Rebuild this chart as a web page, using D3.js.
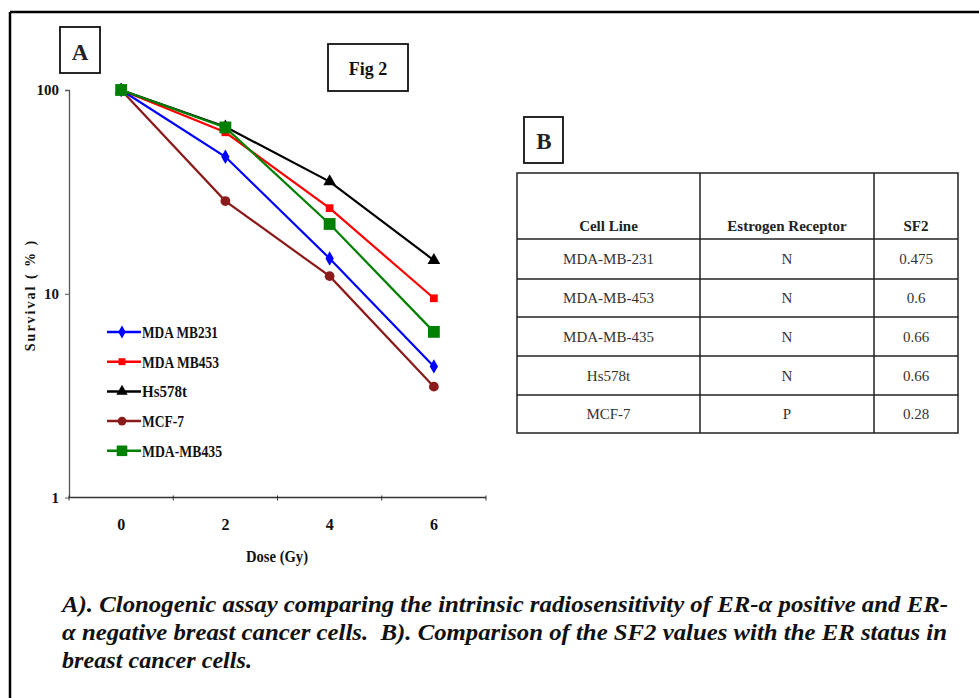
<!DOCTYPE html>
<html>
<head>
<meta charset="utf-8">
<script src="https://cdn.jsdelivr.net/npm/d3@7/dist/d3.min.js"></script>
<style>
  html, body { margin: 0; padding: 0; background: #fff; }
  svg { display: block; }
</style>
</head>
<body>
<svg id="chart" width="979" height="698"></svg>
<script>
// ---------- DATA ----------
const doses = ["0", "2", "4", "6"];
const seriesNames = ["MDA MB231", "MDA MB453", "Hs578t", "MCF-7", "MDA-MB435"];
const mdaMB231 = [100, 47, 14.9, 4.4];
const mdaMB453 = [100, 62, 26.3, 9.5];
const hs578t   = [100, 66, 35.5, 14.6];
const mcf7     = [100, 28.5, 12.2, 3.5];
const mdaMB435 = [100, 65.5, 22, 6.5];
const yTicks = [1, 10, 100];

const tableHeader = ["Cell Line", "Estrogen Receptor", "SF2"];
const cellLines = ["MDA-MB-231", "MDA-MB-453", "MDA-MB-435", "Hs578t", "MCF-7"];
const erStatus  = ["N", "N", "N", "N", "P"];
const sf2       = ["0.475", "0.6", "0.66", "0.66", "0.28"];

const captionLines = [
  "A). Clonogenic assay comparing the intrinsic radiosensitivity of ER-\u03b1 positive and ER-",
  "\u03b1 negative breast cancer cells.\u00a0 B). Comparison of the SF2 values with the ER status in",
  "breast cancer cells."
];

// ---------- STYLE ----------
const series = [
  { name: seriesNames[0], values: mdaMB231, color: "#0000ff", shape: d3.symbolDiamond, size: 60 },
  { name: seriesNames[1], values: mdaMB453, color: "#ff0000", shape: d3.symbolSquare, size: 60 },
  { name: seriesNames[2], values: hs578t,   color: "#000000", shape: d3.symbolTriangle, size: 70 },
  { name: seriesNames[3], values: mcf7,     color: "#8b1a1a", shape: d3.symbolCircle, size: 75 },
  { name: seriesNames[4], values: mdaMB435, color: "#008000", shape: d3.symbolSquare, size: 140 }
];

const svg = d3.select("#chart");
const serif = "'Liberation Serif', 'Times New Roman', serif";

// outer frame (top + left)
svg.append("line").attr("x1", 10).attr("x2", 979).attr("y1", 12).attr("y2", 12)
  .attr("stroke", "#000").attr("stroke-width", 2.5);
svg.append("line").attr("x1", 10).attr("x2", 10).attr("y1", 12).attr("y2", 698)
  .attr("stroke", "#000").attr("stroke-width", 2.5);

// ---------- CHART A ----------
const x = d3.scaleBand().domain(doses).range([69, 486]);
const y = d3.scaleLog().domain([1, 100]).range([497.5, 90]);

const yAxis = svg.append("g").attr("transform", "translate(69,0)")
  .call(d3.axisLeft(y).tickValues(yTicks).tickFormat(d3.format("d")).tickSize(4).tickPadding(6));
yAxis.select(".domain").attr("stroke", "#555").attr("stroke-width", 1.3).attr("d", "M-4,90.5H0.5V497.5");
yAxis.selectAll(".tick line").attr("stroke", "#555");
yAxis.selectAll(".tick text").attr("font-family", serif).attr("font-weight", "bold")
  .attr("font-size", 15).attr("fill", "#111");

const xAxis = svg.append("g").attr("transform", "translate(0,497.5)");
xAxis.append("line").attr("x1", 69).attr("x2", 486).attr("stroke", "#333").attr("stroke-width", 1.5);
xAxis.selectAll("line.tk").data(doses.map(d => x(d)).concat([x.range()[1]])).enter()
  .append("line").attr("class", "tk")
  .attr("x1", d => d).attr("x2", d => d).attr("y1", -2).attr("y2", 3)
  .attr("stroke", "#333").attr("stroke-width", 1);
xAxis.selectAll("text").data(doses).enter().append("text")
  .attr("x", d => x(d) + x.bandwidth() / 2).attr("y", 32)
  .attr("text-anchor", "middle").attr("font-family", serif).attr("font-weight", "bold")
  .attr("font-size", 16).attr("fill", "#111").text(d => d);

svg.append("text").attr("x", 277).attr("y", 562).attr("text-anchor", "middle")
  .attr("font-family", serif).attr("font-weight", "bold").attr("font-size", 16)
  .attr("fill", "#111").attr("textLength", 62).attr("lengthAdjust", "spacingAndGlyphs")
  .text("Dose (Gy)");

svg.append("text").attr("transform", "translate(35,295) rotate(-90)")
  .attr("text-anchor", "middle").attr("font-family", serif).attr("font-weight", "bold")
  .attr("font-size", 14).attr("fill", "#111").attr("letter-spacing", 2)
  .text("Survival ( % )");

const line = d3.line().x((d, i) => x(doses[i]) + x.bandwidth() / 2).y(d => y(d));
const gS = svg.append("g");
series.forEach(s => {
  gS.append("path").attr("d", line(s.values)).attr("fill", "none")
    .attr("stroke", s.color).attr("stroke-width", 2.2);
});
series.forEach(s => {
  gS.selectAll(null).data(s.values).enter().append("path")
    .attr("d", d3.symbol().type(s.shape).size(s.size))
    .attr("transform", (d, i) => `translate(${x(doses[i]) + x.bandwidth() / 2},${y(d)})`)
    .attr("fill", s.color);
});

// legend
const leg = svg.append("g");
const legW = [76, 77, 45, 42, 80];
series.forEach((s, i) => {
  const ly = 332 + i * 29.7;
  leg.append("line").attr("x1", 107).attr("x2", 141).attr("y1", ly).attr("y2", ly)
    .attr("stroke", s.color).attr("stroke-width", 2.5);
  leg.append("path").attr("d", d3.symbol().type(s.shape).size(s.size * 0.8))
    .attr("transform", `translate(122,${ly})`).attr("fill", s.color);
  leg.append("text").attr("x", 142).attr("y", ly + 6)
    .attr("font-family", serif).attr("font-weight", "bold").attr("font-size", 16.5)
    .attr("fill", "#111").attr("textLength", legW[i]).attr("lengthAdjust", "spacingAndGlyphs")
    .text(s.name);
});

// A box
svg.append("rect").attr("x", 60).attr("y", 27).attr("width", 40).attr("height", 46)
  .attr("fill", "none").attr("stroke", "#111").attr("stroke-width", 1.8);
svg.append("text").attr("x", 80).attr("y", 60).attr("text-anchor", "middle")
  .attr("font-family", serif).attr("font-size", 23).attr("font-weight", "bold").attr("fill", "#222").text("A");

// Fig 2 box
svg.append("rect").attr("x", 328).attr("y", 44).attr("width", 80).attr("height", 47)
  .attr("fill", "none").attr("stroke", "#111").attr("stroke-width", 1.8);
svg.append("text").attr("x", 368).attr("y", 75).attr("text-anchor", "middle")
  .attr("font-family", serif).attr("font-size", 18).attr("font-weight", "bold").attr("fill", "#111").text("Fig 2");

// ---------- TABLE B ----------
svg.append("rect").attr("x", 524).attr("y", 117).attr("width", 39).attr("height", 46)
  .attr("fill", "none").attr("stroke", "#111").attr("stroke-width", 1.8);
svg.append("text").attr("x", 544).attr("y", 149).attr("text-anchor", "middle")
  .attr("font-family", serif).attr("font-size", 23).attr("font-weight", "bold").attr("fill", "#222").text("B");

const colX = [517, 700, 874, 958];
const rowY = [173, 239, 279, 317, 356, 395, 433];
const tb = svg.append("g");
tb.append("rect").attr("x", colX[0]).attr("y", rowY[0]).attr("width", colX[3] - colX[0])
  .attr("height", rowY[6] - rowY[0]).attr("fill", "none").attr("stroke", "#222").attr("stroke-width", 1.5);
[1, 2].forEach(c => tb.append("line").attr("x1", colX[c]).attr("x2", colX[c])
  .attr("y1", rowY[0]).attr("y2", rowY[6]).attr("stroke", "#222").attr("stroke-width", 1.5));
[1, 2, 3, 4, 5].forEach(r => tb.append("line").attr("x1", colX[0]).attr("x2", colX[3])
  .attr("y1", rowY[r]).attr("y2", rowY[r]).attr("stroke", "#222").attr("stroke-width", 1.5));

const colCenter = c => (colX[c] + colX[c + 1]) / 2;
tableHeader.forEach((h, c) => {
  tb.append("text").attr("x", colCenter(c)).attr("y", 231).attr("text-anchor", "middle")
    .attr("font-family", serif).attr("font-weight", "bold").attr("font-size", 15)
    .attr("fill", "#222").text(h);
});
const cols = [cellLines, erStatus, sf2];
cellLines.forEach((_, r) => {
  cols.forEach((arr, c) => {
    tb.append("text").attr("x", colCenter(c)).attr("y", (rowY[r + 1] + rowY[r + 2]) / 2 + 5)
      .attr("text-anchor", "middle").attr("font-family", serif).attr("font-size", 15)
      .attr("fill", "#333").text(arr[r]);
  });
});

// ---------- CAPTION ----------
const capW = [886, 885, 190];
captionLines.forEach((t, i) => {
  svg.append("text").attr("x", 62).attr("y", 612 + i * 28)
    .attr("font-family", serif).attr("font-weight", "bold").attr("font-style", "italic")
    .attr("font-size", 23.5).attr("fill", "#111")
    .attr("textLength", capW[i]).attr("lengthAdjust", "spacingAndGlyphs")
    .text(t);
});
</script>
</body>
</html>
